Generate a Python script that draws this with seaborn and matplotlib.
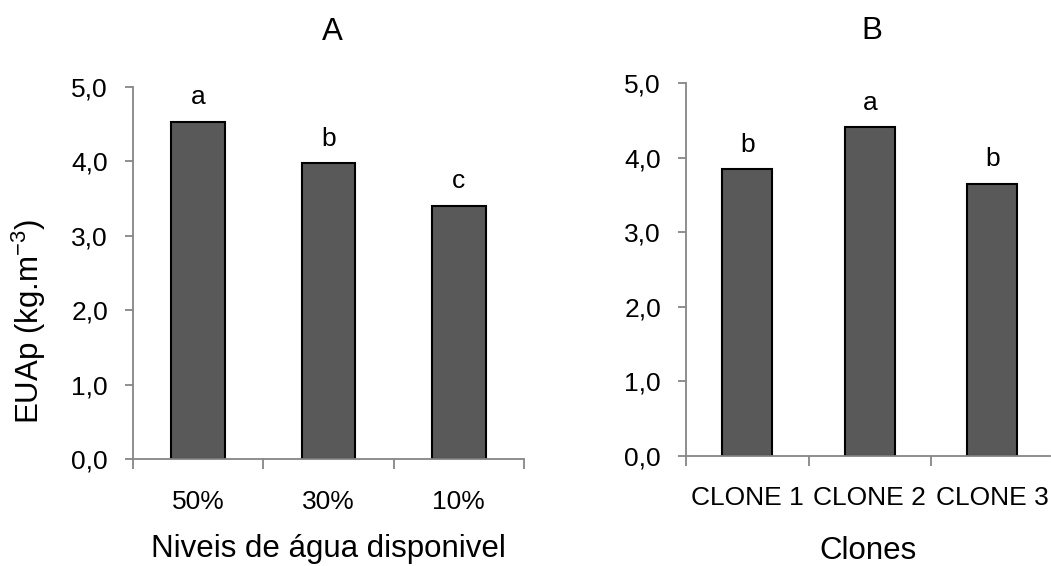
import matplotlib
matplotlib.use("Agg")
import matplotlib.pyplot as plt
from matplotlib.ticker import FuncFormatter, FixedLocator
import seaborn as sns
import pandas as pd

# Data
niveis = ["50%", "30%", "10%"]
euap_niveis = [4.53, 3.97, 3.40]
letras_niveis = ["a", "b", "c"]

clones = ["CLONE 1", "CLONE 2", "CLONE 3"]
euap_clones = [3.85, 4.41, 3.65]
letras_clones = ["b", "a", "b"]

sns.set_theme(style="white")
plt.rcParams["font.family"] = ["Liberation Sans", "DejaVu Sans"]
plt.rcParams["mathtext.fontset"] = "custom"
plt.rcParams["mathtext.rm"] = "Liberation Sans"
plt.rcParams["mathtext.it"] = "Liberation Sans"

W, H = 1051, 566
fig = plt.figure(figsize=(W / 100, H / 100), dpi=100)

BAR = "#595959"
AXC = "#868686"
TICK_FS = 19
LAB_FS = 22.5

def fx(px):
    return px / W

def fy(py):
    return 1 - py / H

axA = fig.add_axes([fx(133), fy(459), fx(524) - fx(133), fy(86.7) - fy(459)])
axB = fig.add_axes([fx(686), fy(455.7), fx(1050) - fx(686), fy(83.3) - fy(455.7)])

def draw(ax, cats, vals, letters, xlabel, xmax, xlabel_pad):
    df = pd.DataFrame({"cat": cats, "val": vals})
    sns.barplot(data=df, x="cat", y="val", order=cats, color=BAR, saturation=1,
                width=0.41, edgecolor="black", linewidth=1.5, ax=ax)
    ax.set_ylim(0, 5)
    ax.set_xlim(-0.5, xmax)
    for s in ["top", "right"]:
        ax.spines[s].set_visible(False)
    for s in ["left", "bottom"]:
        ax.spines[s].set_color(AXC)
        ax.spines[s].set_linewidth(1.3)
    ax.set_yticks([0, 1, 2, 3, 4, 5])
    ax.yaxis.set_major_formatter(FuncFormatter(lambda v, p: f"{v:.1f}".replace(".", ",")))
    ax.tick_params(axis="y", which="major", length=6, width=1.3, color=AXC,
                   labelsize=TICK_FS, labelcolor="black", pad=12, left=True)
    ax.xaxis.set_major_locator(FixedLocator([-0.5, 0.5, 1.5, 2.5]))
    ax.set_xticklabels([])
    ax.xaxis.set_minor_locator(FixedLocator([0, 1, 2]))
    ax.set_xticklabels(cats, minor=True)
    ax.tick_params(axis="x", which="major", length=7, width=1.3, color=AXC, bottom=True)
    ax.tick_params(axis="x", which="minor", length=0, labelsize=TICK_FS,
                   labelcolor="black", pad=22, bottom=True)
    ax.set_xlabel(xlabel, fontsize=LAB_FS, labelpad=xlabel_pad, color="black")
    ax.set_ylabel("")
    ax.grid(False)
    for i, (v, t) in enumerate(zip(vals, letters)):
        ax.annotate(t, (i, v), xytext=(0, 12.5), textcoords="offset points",
                    ha="center", va="baseline", fontsize=TICK_FS, color="black")

draw(axA, niveis, euap_niveis, letras_niveis, "Niveis de água disponivel", 2.5, 15)
draw(axB, clones, euap_clones, letras_clones, "Clones", -0.5 + 364 / 122.5, 18.5)

fig.text(fx(29), fy(321), r"EUAp (kg.m$^{-3}$)", rotation=90, ha="center", va="center",
         fontsize=LAB_FS, color="black")
fig.text(fx(332), fy(40), "A", ha="center", va="baseline", fontsize=LAB_FS, color="black")
fig.text(fx(872), fy(39), "B", ha="center", va="baseline", fontsize=LAB_FS, color="black")

fig.savefig("out.png", dpi=100, facecolor="white")
